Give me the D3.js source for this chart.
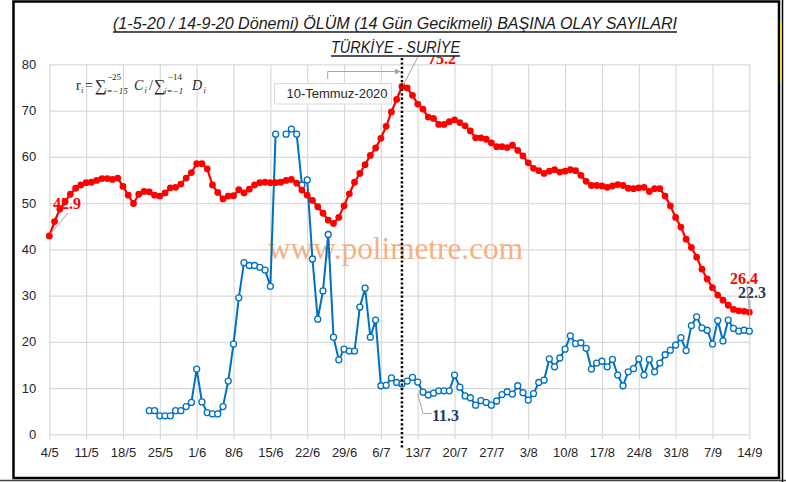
<!DOCTYPE html>
<html>
<head>
<meta charset="utf-8">
<script src="https://cdn.jsdelivr.net/npm/d3@7"></script>
<style>
  body { margin: 0; background: #fff; }
  svg { display: block; }
</style>
</head>
<body>
<svg id="chart" width="786" height="482"></svg>
<script>
// Türkiye series, one value per day from 4/5
const turkeyStart = "2020-05-04";
const turkeyValues = [
  42.9, 46.0, 48.7, 50.3, 51.9, 53.2, 53.9, 54.4, 54.5, 54.9,
  55.3, 55.3, 55.1, 55.4, 53.6, 51.7, 49.9, 51.9, 52.5, 52.4,
  51.7, 51.5, 52.2, 53.3, 53.4, 54.1, 55.4, 56.6, 58.5, 58.5,
  57.4, 53.9, 52.3, 50.9, 51.5, 51.6, 52.9, 52.2, 53.0, 53.9,
  54.4, 54.5, 54.4, 54.4, 54.5, 54.9, 55.1, 54.3, 52.8, 51.7,
  50.6, 49.2, 47.8, 46.3, 45.6, 46.9, 49.4, 52.0, 54.5, 56.4,
  58.3, 60.3, 61.9, 64.0, 66.6, 69.7, 72.4, 75.2, 74.9, 73.3,
  71.4, 70.3, 68.6, 68.3, 67.0, 67.0, 67.6, 68.0, 67.4, 66.7,
  65.6, 64.1, 64.1, 63.8, 63.0, 62.2, 62.2, 62.0, 62.5, 61.4,
  60.2, 58.7, 57.5, 57.0, 56.4, 56.9, 57.2, 56.7, 56.9, 57.2,
  57.0, 56.0, 54.7, 53.8, 53.8, 53.7, 53.4, 53.7, 54.0, 53.8,
  53.2, 53.1, 53.3, 53.4, 52.5, 53.1, 53.1, 51.5, 49.4, 46.9,
  44.8, 42.2, 40.4, 38.3, 35.7, 33.6, 31.7, 30.1, 29.0, 27.9,
  27.0, 26.7, 26.6, 26.4
];

// Suriye series, one value per day from 23/5 (null = no value)
const syriaStart = "2020-05-23";
const syriaValues = [
  5.1, 5.1, 4.0, 4.0, 4.0, 5.1, 5.1, 6.0, 6.9, 14.1,
  7.0, 4.7, 4.4, 4.4, 6.0, 11.5, 19.5, 29.5, 37.1, 36.5,
  36.5, 36.1, 35.5, 32.0, 64.9, null, 64.9, 66.0, 64.9, 53.9,
  55.0, 37.9, 24.9, 31.0, 43.2, 21.0, 16.1, 18.4, 18.0, 18.0,
  27.5, 31.6, 21.0, 24.7, 10.5, 10.6, 12.2, 11.2, 10.9, 11.5,
  12.3, 11.3, 9.1, 8.5, 8.9, 9.4, 9.4, 9.4, 12.8, 10.2,
  8.3, 7.9, 6.3, 7.3, 6.9, 6.3, 7.2, 8.6, 9.2, 8.7,
  10.5, 9.0, 7.4, 8.8, 11.2, 11.7, 16.3, 14.6, 16.5, 18.4,
  21.3, 19.6, 19.8, 18.6, 14.1, 15.4, 15.8, 14.6, 16.2, 12.8,
  10.5, 13.5, 14.2, 16.3, 12.8, 16.2, 13.5, 15.4, 17.2, 18.2,
  19.3, 20.9, 18.1, 23.5, 25.4, 23.0, 22.5, 19.5, 24.6, 20.2,
  24.7, 22.9, 22.3, 22.5, 22.3
];

const yTicks = [0, 10, 20, 30, 40, 50, 60, 70, 80];
const xTickLabels = ["4/5", "11/5", "18/5", "25/5", "1/6", "8/6", "15/6", "22/6", "29/6",
  "6/7", "13/7", "20/7", "27/7", "3/8", "10/8", "17/8", "24/8", "31/8", "7/9", "14/9"];

const markerDay = "2020-07-10";
const markerText = "10-Temmuz-2020";
const titleLine1 = "(1-5-20 / 14-9-20 Dönemi) ÖLÜM (14 Gün Gecikmeli) BAŞINA OLAY SAYILARI";
const titleLine2 = "TÜRKİYE - SURİYE";

const parse = d3.utcParse("%Y-%m-%d");
const t0 = parse(turkeyStart);
const s0 = parse(syriaStart);
const turkey = turkeyValues.map((v, i) => ({ date: d3.utcDay.offset(t0, i), v }));
const syria = syriaValues.map((v, i) => ({ date: d3.utcDay.offset(s0, i), v }));
const xTickDates = xTickLabels.map((l, i) => d3.utcDay.offset(t0, i * 7));

const svg = d3.select("#chart");
const plot = { left: 49.3, right: 749.3, top: 64.3, bottom: 434.3 };

const x = d3.scaleUtc()
  .domain([t0, xTickDates[xTickDates.length - 1]])
  .range([plot.left, plot.right]);
const y = d3.scaleLinear()
  .domain([0, 80])
  .range([plot.bottom, plot.top]);

const axisFont = "'Liberation Sans', Arial, sans-serif";
const serif = "'Liberation Serif', 'Times New Roman', serif";

svg.append("rect").attr("width", 786).attr("height", 482).attr("fill", "#fff");

// y axis + horizontal grid
const yAxis = svg.append("g")
  .attr("transform", `translate(${plot.left},0)`)
  .call(d3.axisLeft(y).tickValues(yTicks).tickSize(-(plot.right - plot.left)).tickPadding(13));
yAxis.select(".domain").remove();
yAxis.selectAll("line").attr("stroke", "#d9d9d9").attr("stroke-width", 1.2);
yAxis.selectAll("text").attr("font-family", axisFont).attr("font-size", 13).attr("fill", "#262626");

// x axis + vertical grid
const xAxis = svg.append("g")
  .attr("transform", `translate(0,${plot.bottom})`)
  .call(d3.axisBottom(x).tickValues(xTickDates).tickFormat((d, i) => xTickLabels[i]).tickSize(5).tickPadding(8.5));
xAxis.select(".domain").remove();
xAxis.selectAll("line").attr("y1", -(plot.bottom - plot.top)).attr("stroke", "#d9d9d9").attr("stroke-width", 1.2);
xAxis.selectAll("text").attr("font-family", axisFont).attr("font-size", 13).attr("fill", "#262626");

// watermark
svg.append("text")
  .attr("x", 268).attr("y", 259)
  .attr("font-family", serif).attr("font-size", 32)
  .attr("textLength", 255).attr("lengthAdjust", "spacingAndGlyphs")
  .attr("fill", "#f4b183")
  .text("www.polimetre.com");

// formula
const fg = svg.append("g").attr("font-family", serif).attr("fill", "#262626");
fg.append("text").attr("x", 76).attr("y", 89.5).attr("font-size", 14).text("r");
fg.append("text").attr("x", 81).attr("y", 93).attr("font-size", 8.5).text("i");
fg.append("text").attr("x", 85).attr("y", 89.5).attr("font-size", 14).text("=");
fg.append("text").attr("x", 95).attr("y", 91).attr("font-size", 16).text("∑");
fg.append("text").attr("x", 107).attr("y", 79.5).attr("font-size", 9).text("−25");
fg.append("text").attr("x", 104).attr("y", 93.5).attr("font-size", 9).attr("font-style", "italic").text("i=−15");
fg.append("text").attr("x", 134).attr("y", 89.5).attr("font-size", 14).attr("font-style", "italic").text("C");
fg.append("text").attr("x", 144.5).attr("y", 93).attr("font-size", 8.5).attr("font-style", "italic").text("i");
fg.append("text").attr("x", 149).attr("y", 89.5).attr("font-size", 14).text("/");
fg.append("text").attr("x", 154).attr("y", 91).attr("font-size", 16).text("∑");
fg.append("text").attr("x", 168).attr("y", 79.5).attr("font-size", 9).text("−14");
fg.append("text").attr("x", 164).attr("y", 93.5).attr("font-size", 9).attr("font-style", "italic").text("i=−1");
fg.append("text").attr("x", 192).attr("y", 89.5).attr("font-size", 14).attr("font-style", "italic").text("D");
fg.append("text").attr("x", 203.5).attr("y", 93).attr("font-size", 8.5).attr("font-style", "italic").text("i");

// lines
const line = d3.line()
  .defined(d => d.v != null)
  .x(d => x(d.date))
  .y(d => y(d.v));

svg.append("path").datum(syria)
  .attr("fill", "none").attr("stroke", "#0070c0").attr("stroke-width", 2)
  .attr("stroke-linejoin", "round").attr("d", line);
svg.append("g").selectAll("circle")
  .data(syria.filter(d => d.v != null))
  .join("circle")
  .attr("cx", d => x(d.date)).attr("cy", d => y(d.v)).attr("r", 3)
  .attr("fill", "#fff").attr("stroke", "#0070c0").attr("stroke-width", 1.3);

svg.append("path").datum(turkey)
  .attr("fill", "none").attr("stroke", "#ff0000").attr("stroke-width", 2.2)
  .attr("stroke-linejoin", "round").attr("d", line);
svg.append("g").selectAll("circle")
  .data(turkey)
  .join("circle")
  .attr("cx", d => x(d.date)).attr("cy", d => y(d.v)).attr("r", 3.4)
  .attr("fill", "#ff0000");

// marker day: dotted line + callout
const mx = x(parse(markerDay));
svg.append("line")
  .attr("x1", mx).attr("x2", mx).attr("y1", 58).attr("y2", 448)
  .attr("stroke", "#000").attr("stroke-width", 2.5).attr("stroke-dasharray", "2.2,2.2");

svg.append("defs").append("marker")
  .attr("id", "arr").attr("viewBox", "0 0 10 10").attr("refX", 10).attr("refY", 5)
  .attr("markerWidth", 6).attr("markerHeight", 6).attr("orient", "auto")
  .append("path").attr("d", "M0,0L10,5L0,10Z").attr("fill", "#a6a6a6");
svg.append("path")
  .attr("d", `M327.7,79V71.5H${mx - 1}`)
  .attr("fill", "none").attr("stroke", "#a6a6a6").attr("stroke-width", 1)
  .attr("marker-end", "url(#arr)");
svg.append("rect")
  .attr("x", 274.5).attr("y", 83.5).attr("width", 117).attr("height", 20.5)
  .attr("fill", "#fff").attr("stroke", "#d9d9d9");
svg.append("text")
  .attr("x", 337).attr("y", 98.3).attr("text-anchor", "middle")
  .attr("font-family", axisFont).attr("font-size", 13).attr("fill", "#262626")
  .text(markerText);

// data labels
const lab = svg.append("g").attr("font-family", serif).attr("font-weight", "bold").attr("font-size", 16);
const leader = (pts) => svg.append("path").attr("d", d3.line()(pts))
  .attr("fill", "none").attr("stroke", "#a6a6a6").attr("stroke-width", 1);

const tFirst = turkey[0], tLast = turkey[turkey.length - 1];
const tPeak = turkey.find(d => +d.date === +parse(markerDay));
const sLast = syria[syria.length - 1];
const sLab = syria[51];

leader([[x(tFirst.date) + 1, y(tFirst.v) - 2], [68, 213]]);
lab.append("text").attr("x", 53).attr("y", 209).attr("fill", "#ff0000").text(tFirst.v.toFixed(1));

leader([[x(tPeak.date) + 1, y(tPeak.v) - 1], [419, 55]]);
lab.append("text").attr("x", 428).attr("y", 63.5).attr("fill", "#ff0000").text(tPeak.v.toFixed(1));

leader([[432, 413.5], [423, 413.5], [x(sLab.date), y(sLab.v) + 12]]);
lab.append("text").attr("x", 432).attr("y", 421).attr("fill", "#1f3864").text(sLab.v.toFixed(1));

leader([[747, 286], [x(tLast.date), y(tLast.v) - 2]]);
leader([[750, 300], [x(sLast.date), y(sLast.v) - 3]]);
lab.append("text").attr("x", 730).attr("y", 284).attr("fill", "#ff0000").text(tLast.v.toFixed(1));
lab.append("text").attr("x", 738).attr("y", 298).attr("fill", "#1f3864").text(sLast.v.toFixed(1));

// title (white box hides top of the peak label, as in the source)
svg.append("rect").attr("x", 100).attr("y", 4).attr("width", 590).attr("height", 51.5).attr("fill", "#fff");
const tg = svg.append("g").attr("font-family", axisFont).attr("font-style", "italic").attr("fill", "#1a1a1a");
tg.append("text").attr("x", 395).attr("y", 28.5).attr("text-anchor", "middle").attr("font-size", 16.5)
  .attr("textLength", 564).attr("lengthAdjust", "spacingAndGlyphs").text(titleLine1);
tg.append("line").attr("x1", 113).attr("x2", 677).attr("y1", 32).attr("y2", 32).attr("stroke", "#1a1a1a").attr("stroke-width", 1.3);
tg.append("text").attr("x", 395.5).attr("y", 52.5).attr("text-anchor", "middle").attr("font-size", 16.5)
  .attr("textLength", 129).attr("lengthAdjust", "spacingAndGlyphs").text(titleLine2);
tg.append("line").attr("x1", 331).attr("x2", 460).attr("y1", 56).attr("y2", 56).attr("stroke", "#1a1a1a").attr("stroke-width", 1.3);

// frame
svg.append("rect").attr("x", 13.5).attr("y", 1.5).attr("width", 765.5).attr("height", 476.5)
  .attr("fill", "none").attr("stroke", "#000").attr("stroke-width", 2.5);
svg.append("line").attr("x1", 0).attr("x2", 786).attr("y1", 480.5).attr("y2", 480.5).attr("stroke", "#444").attr("stroke-width", 1.5);
svg.append("line").attr("x1", 782.5).attr("x2", 782.5).attr("y1", 0).attr("y2", 482).attr("stroke", "#000").attr("stroke-width", 1.5);
svg.append("line").attr("x1", 780.8).attr("x2", 780.8).attr("y1", 22).attr("y2", 82).attr("stroke", "#ffe600").attr("stroke-width", 1.2);
</script>
</body>
</html>
